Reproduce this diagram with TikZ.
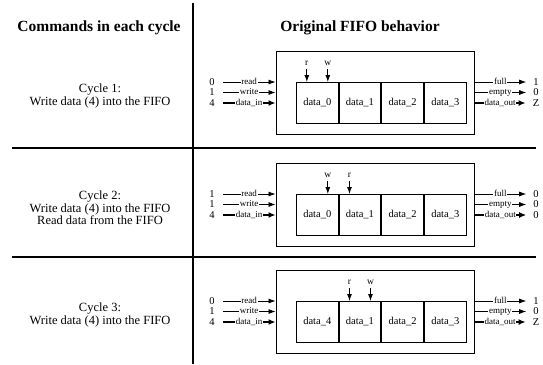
\documentclass[tikz,border=0pt]{standalone}
\usepackage{fontspec}
\setmainfont{Liberation Serif}
\usetikzlibrary{arrows.meta,positioning,calc}

\begin{document}
\begin{tikzpicture}[
  x=1pt, y=-1pt,
  title/.style={font=\fontsize{15.5}{18}\selectfont\bfseries},
  cmd/.style={align=center,font=\fontsize{12.5}{12.5}\selectfont},
  fifobox/.style={draw,line width=0.9pt,minimum width=198pt,minimum height=83pt,anchor=north west},
  cell/.style={draw,line width=0.9pt,minimum width=41.75pt,minimum height=41pt,inner sep=0pt,anchor=north west,font=\fontsize{10.5}{12}\selectfont},
  val/.style={inner sep=1pt,font=\fontsize{10.5}{12}\selectfont},
  lbl/.style={fill=white,inner sep=0.6pt,anchor=base,yshift=-2.2pt,font=\fontsize{9}{10}\selectfont},
  ptrlbl/.style={inner sep=0.5pt,font=\fontsize{9.5}{10}\selectfont},
  ctl/.style={-{Latex[length=7pt,width=5pt]},line width=0.7pt},
  bus/.style={-{Latex[length=7pt,width=6pt]},line width=1.4pt},
  ptr/.style={-{Latex[length=7pt,width=5pt]},line width=0.9pt,shorten <=3pt},
  divider/.style={line width=2.6pt}
]
  \useasboundingbox (0,0) rectangle (543,364);

  \node[title] (hdcmd) at (99,28) {Commands in each cycle};
  \node[title] (hdfifo) at (360,28) {Original FIFO behavior};

  \draw[divider] (193,3) -- (193,364);
  \draw[divider] (12,148) -- (536,148);
  \draw[divider] (12,257) -- (536,257);

  \foreach \n/\t/\rd/\wr/\fl/\em/\dout/\rx/\wx/\first/\txt in {
      1/51/0/1/1/0/Z/0/0/0/{Cycle 1:\\Write data (4) into the FIFO},
      2/163/1/1/0/0/0/1/0/0/{Cycle 2:\\Write data (4) into the FIFO\\Read data from the FIFO},
      3/270/0/1/1/0/Z/1/1/4/{Cycle 3:\\Write data (4) into the FIFO}} {
    \node[cmd] (cmd\n) at (100,\t+45) {\txt};
    \node[fifobox] (fifo\n) at (275.5,\t) {};

    % memory cells
    \node[cell] (c\n-0) at (296,\t+31) {data\_\first};
    \foreach \i/\j in {1/0,2/1,3/2}
      \node[cell,right=0pt of c\n-\j] (c\n-\i) {data\_\i};

    % read / write pointers
    \node[ptrlbl] (r\n) at ($(c\n-\rx.north)+(-10.5,-19)$) {r};
    \node[ptrlbl] (w\n) at ($(c\n-\wx.north)+(10.5,-19)$) {w};
    \draw[ptr] (r\n) -- (r\n |- c\n-\rx.north);
    \draw[ptr] (w\n) -- (w\n |- c\n-\wx.north);

    % inputs
    \node[val] (rd\n) at (212,\t+31) {\rd};
    \node[val] (wr\n) at (212,\t+41.5) {\wr};
    \node[val] (din\n) at (212,\t+52) {4};
    \draw[ctl] ([xshift=7pt]rd\n.east) -- (rd\n -| fifo\n.west) node[lbl,midway] {read};
    \draw[ctl] ([xshift=7pt]wr\n.east) -- (wr\n -| fifo\n.west) node[lbl,midway] {write};
    \draw[bus] ([xshift=7pt]din\n.east) -- (din\n -| fifo\n.west) node[lbl,midway] {data\_in};

    % outputs
    \node[val] (fl\n) at (536,\t+31) {\fl};
    \node[val] (em\n) at (536,\t+41.5) {\em};
    \node[val] (dout\n) at (536,\t+52) {\dout};
    \draw[ctl] (fl\n -| fifo\n.east) -- ([xshift=-6pt]fl\n.west) node[lbl,midway] {full};
    \draw[ctl] (em\n -| fifo\n.east) -- ([xshift=-6pt]em\n.west) node[lbl,midway] {empty};
    \draw[bus] (dout\n -| fifo\n.east) -- ([xshift=-6pt]dout\n.west) node[lbl,midway] {data\_out};
  }
\end{tikzpicture}
\end{document}
